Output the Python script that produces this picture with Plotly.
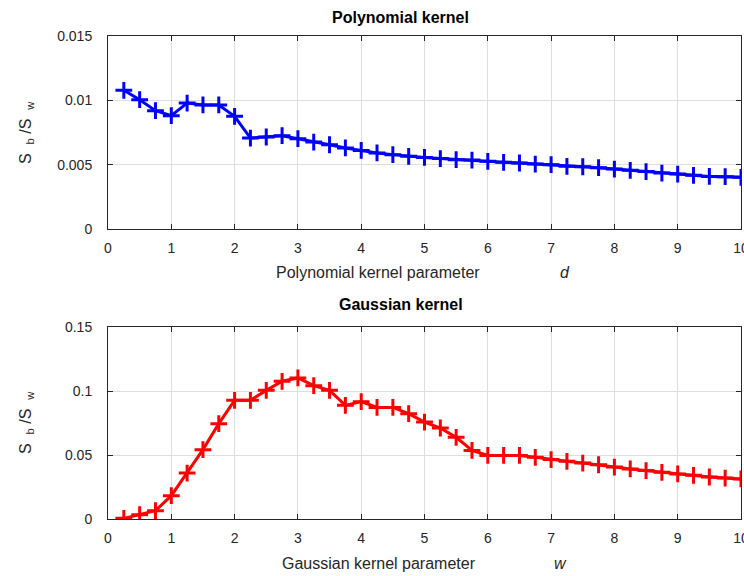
import plotly.graph_objects as go
from plotly.subplots import make_subplots

x_vals = [0.25 * (i + 1) for i in range(40)]

poly_vals = [0.01078, 0.01005, 0.0092, 0.00881, 0.00979, 0.00964, 0.00964, 0.00876,
             0.00707, 0.00715, 0.00725, 0.00702, 0.00676, 0.00655, 0.0063, 0.00611,
             0.00591, 0.00578, 0.00565, 0.00556, 0.00547, 0.00539, 0.00536, 0.00526,
             0.00518, 0.00513, 0.00505, 0.0050, 0.00487, 0.00484, 0.00477, 0.00466,
             0.00456, 0.00446, 0.00435, 0.00427, 0.00417, 0.00409, 0.00407, 0.00402]

gauss_vals = [0.0005, 0.0034, 0.0065, 0.0182, 0.0359, 0.0542, 0.0745, 0.0927,
              0.0927, 0.1005, 0.1076, 0.1102, 0.1042, 0.1005, 0.0888, 0.0917,
              0.0872, 0.0872, 0.0823, 0.0757, 0.0711, 0.0638, 0.0536, 0.0497,
              0.0497, 0.0497, 0.0482, 0.0464, 0.0451, 0.0437, 0.0424, 0.0406,
              0.0391, 0.0378, 0.0365, 0.0352, 0.0341, 0.0328, 0.032, 0.0313]

x_ticks = [0, 1, 2, 3, 4, 5, 6, 7, 8, 9, 10]
poly_yticks = [0, 0.005, 0.01, 0.015]
poly_yticklabels = ["0", "0.005", "0.01", "0.015"]
gauss_yticks = [0, 0.05, 0.1, 0.15]
gauss_yticklabels = ["0", "0.05", "0.1", "0.15"]

FONT = "Liberation Sans, Arial, Helvetica, sans-serif"
AX = "#262626"

fig = make_subplots(rows=2, cols=1)

fig.add_trace(go.Scatter(x=x_vals, y=poly_vals, mode="lines+markers",
                         line=dict(color="#0000ff", width=3),
                         marker=dict(symbol="cross-thin", size=12,
                                     line=dict(color="#0000ff", width=3)),
                         showlegend=False), row=1, col=1)
fig.add_trace(go.Scatter(x=x_vals, y=gauss_vals, mode="lines+markers",
                         line=dict(color="#ff0000", width=3),
                         marker=dict(symbol="cross-thin", size=12,
                                     line=dict(color="#ff0000", width=3)),
                         showlegend=False), row=2, col=1)

common_x = dict(range=[0, 10], tickvals=x_ticks, showgrid=True, gridcolor="#dedede",
                gridwidth=1, showline=True, linecolor=AX, linewidth=1, mirror="ticks",
                ticks="inside", ticklen=5, tickcolor=AX, zeroline=False,
                tickfont=dict(family=FONT, size=14, color=AX), ticklabelstandoff=6,
                ticklabeloverflow="allow", automargin=False)
common_y = dict(showgrid=True, gridcolor="#dedede", gridwidth=1, showline=True,
                linecolor=AX, linewidth=1, mirror="ticks", ticks="inside", ticklen=5,
                tickcolor=AX, zeroline=False,
                tickfont=dict(family=FONT, size=14, color=AX), ticklabelstandoff=12,
                ticklabeloverflow="allow", automargin=False)

fig.update_xaxes(**common_x)
fig.update_yaxes(**common_y)
fig.update_xaxes(domain=[0, 1])
fig.update_yaxes(range=[0, 0.015], tickvals=poly_yticks, ticktext=poly_yticklabels,
                 domain=[0.6004, 1.0], row=1, col=1)
fig.update_yaxes(range=[0, 0.15], tickvals=gauss_yticks, ticktext=gauss_yticklabels,
                 domain=[0.0, 0.3975], row=2, col=1)

ann = []
def a(text, x, y, size=16, bold=False, angle=0, italic=False):
    t = text
    if bold:
        t = "<b>" + t + "</b>"
    if italic:
        t = "<i>" + t + "</i>"
    ann.append(dict(text=t, x=x, y=y, xref="paper", yref="paper", showarrow=False,
                    textangle=angle, xanchor="center", yanchor="middle",
                    font=dict(family=FONT, size=size, color="#000000" if bold else AX)))

W = 744 - 108 - 3
H = 576 - 36 - 57
def px(xp):
    return (xp - 108) / W
def py(yp):
    return (519 - yp) / H

a("Polynomial kernel", px(400), py(18), bold=True)
a("Gaussian kernel", px(401), py(304), bold=True)
a("Polynomial kernel parameter", px(378), py(272))
a("d", px(565), py(272), italic=True)
a("Gaussian kernel parameter", px(379), py(563))
a("w", px(560), py(563), italic=True)
a("S  <sub>b</sub> /S  <sub>w</sub>", px(26), py(133), angle=-90)
a("S  <sub>b</sub> /S  <sub>w</sub>", px(26), py(423), angle=-90)

fig.update_layout(width=744, height=576, margin=dict(l=108, r=3, t=36, b=57, autoexpand=False),
                  paper_bgcolor="white", plot_bgcolor="white", annotations=ann,
                  font=dict(family=FONT))

fig.write_html("out.html")
